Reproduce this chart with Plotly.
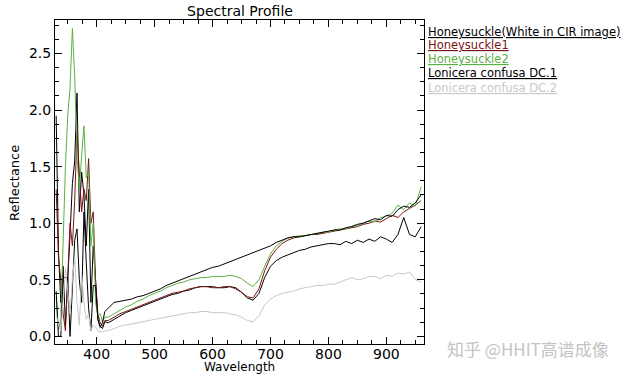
import plotly.graph_objects as go

wavelength = [330, 334, 338, 342, 346, 350, 354, 358, 362, 366, 370, 374, 378, 382, 386, 390, 394, 398, 402, 406, 410, 414,
              420, 430, 440, 450, 460, 470, 480, 490, 500, 510, 520, 530, 540, 550, 560, 570, 580, 590, 600,
              610, 620, 630, 640, 650, 660, 670, 680, 690, 700,
              710, 720, 730, 740, 750, 760, 770, 780, 790, 800, 810, 820, 830, 840, 850, 860, 870, 880, 890, 900,
              910, 920, 930, 940, 950, 960]

honeysuckle_white = [1.95, 0.75, 0.30, 0.62, 0.10, 0.45, 0.90, 1.35, 1.55, 2.15, 1.10, 1.45, 1.25, 0.80, 1.30, 0.30, 0.80, 0.50, 0.15, 0.09, 0.07, 0.13,
                     0.12, 0.15, 0.18, 0.21, 0.23, 0.25, 0.27, 0.29, 0.31, 0.33, 0.35, 0.37, 0.38, 0.40, 0.41, 0.43, 0.44, 0.44, 0.44,
                     0.43, 0.43, 0.44, 0.43, 0.39, 0.34, 0.32, 0.38, 0.52, 0.62,
                     0.67, 0.70, 0.72, 0.74, 0.76, 0.77, 0.79, 0.80, 0.81, 0.82, 0.82, 0.81, 0.84, 0.82, 0.85, 0.83, 0.86, 0.84, 0.88, 0.86,
                     0.83, 0.90, 1.05, 0.90, 0.88, 0.97]

honeysuckle1 = [1.30, 0.70, 0.50, 0.20, 0.05, 0.60, 1.00, 0.80, 1.20, 1.80, 1.40, 1.10, 1.30, 1.20, 1.57, 1.00, 1.10, 0.50, 0.20, 0.12, 0.09, 0.14,
                0.14, 0.17, 0.20, 0.22, 0.24, 0.26, 0.28, 0.30, 0.32, 0.34, 0.36, 0.38, 0.39, 0.40, 0.42, 0.43, 0.44, 0.44, 0.43,
                0.43, 0.44, 0.44, 0.42, 0.39, 0.35, 0.34, 0.42, 0.58, 0.70,
                0.77, 0.82, 0.85, 0.87, 0.88, 0.89, 0.90, 0.90, 0.91, 0.92, 0.93, 0.94, 0.95, 0.96, 0.97, 0.99, 1.00, 1.02, 1.01, 1.04,
                1.07, 1.05, 1.10, 1.13, 1.16, 1.20]

honeysuckle2 = [0.35, 0.06, 0.15, 0.90, 1.50, 1.95, 2.20, 2.72, 2.30, 1.60, 1.30, 1.60, 1.86, 1.40, 1.45, 0.80, 1.00, 0.30, 0.18, 0.20, 0.13, 0.17,
                0.17, 0.20, 0.23, 0.26, 0.28, 0.31, 0.33, 0.36, 0.38, 0.40, 0.43, 0.45, 0.47, 0.48, 0.50, 0.51, 0.52, 0.52, 0.53,
                0.53, 0.53, 0.54, 0.53, 0.51, 0.47, 0.44, 0.50, 0.62, 0.73,
                0.80, 0.84, 0.87, 0.88, 0.89, 0.89, 0.90, 0.91, 0.92, 0.92, 0.94, 0.95, 0.95, 0.97, 0.98, 1.00, 1.02, 1.01, 1.05, 1.06,
                1.09, 1.16, 1.12, 1.18, 1.15, 1.32]

lonicera_dc1 = [0.40, 0.00, 0.00, 0.52, 0.52, 0.52, 0.00, 0.45, 0.85, 0.95, 0.50, 0.30, 1.10, 0.65, 0.25, 0.05, 0.45, 0.45, 0.15, 0.08, 0.12, 0.22,
                0.25, 0.30, 0.31, 0.32, 0.33, 0.35, 0.36, 0.38, 0.40, 0.42, 0.45, 0.47, 0.49, 0.51, 0.53, 0.55, 0.57, 0.59, 0.61,
                0.62, 0.64, 0.66, 0.68, 0.70, 0.72, 0.74, 0.76, 0.78, 0.80,
                0.83, 0.85, 0.87, 0.88, 0.88, 0.89, 0.90, 0.91, 0.92, 0.93, 0.94, 0.94, 0.96, 0.97, 0.99, 1.00, 1.02, 1.04, 1.03, 1.07,
                1.06, 1.12, 1.15, 1.14, 1.18, 1.25]

lonicera_dc2 = [0.20, 0.10, 0.05, 0.30, 0.60, 0.40, 0.20, 0.50, 0.70, 0.30, 0.10, 0.55, 0.30, 0.15, 0.20, 0.05, 0.10, 0.08, 0.05, 0.04, 0.04, 0.05,
                0.05, 0.07, 0.09, 0.10, 0.11, 0.12, 0.13, 0.14, 0.15, 0.16, 0.17, 0.18, 0.19, 0.20, 0.21, 0.21, 0.22, 0.22, 0.21,
                0.21, 0.21, 0.20, 0.19, 0.17, 0.14, 0.13, 0.18, 0.28, 0.33,
                0.36, 0.38, 0.39, 0.40, 0.42, 0.43, 0.44, 0.45, 0.45, 0.46, 0.46, 0.48, 0.50, 0.52, 0.50, 0.51, 0.53, 0.53, 0.51, 0.54,
                0.53, 0.56, 0.55, 0.57, 0.50, 0.48]

series_names = ["Honeysuckle(White in CIR image)", "Honeysuckle1", "Honeysuckle2",
                "Lonicera confusa DC.1", "Lonicera confusa DC.2"]
series_values = [honeysuckle_white, honeysuckle1, honeysuckle2, lonicera_dc1, lonicera_dc2]
series_colors = ["#000000", "#7a1414", "#5cb043", "#000000", "#c8c8c8"]

W, H = 632, 374
ML, MR, MT, MB = 55, 208, 20, 30
PW, PH = W - ML - MR, H - MT - MB

fig = go.Figure()
for name, vals, col in zip(series_names, series_values, series_colors):
    fig.add_trace(go.Scatter(x=wavelength, y=vals, mode="lines", name=name,
                             line=dict(color=col, width=1), showlegend=False))

axis_common = dict(showline=True, linecolor="black", linewidth=1, mirror="ticks",
                   ticks="inside", ticklen=7, tickcolor="black", tickwidth=1,
                   showgrid=False, zeroline=False, automargin=False,
                   tickfont=dict(family="DejaVu Sans", size=14, color="black"))

fig.update_xaxes(range=[328, 965], tick0=400, dtick=100, ticklabelstandoff=-3,
                 minor=dict(dtick=25, ticks="inside", ticklen=4, tickcolor="black", showgrid=False),
                 **axis_common)
fig.update_yaxes(range=[-0.067, 2.795], tick0=0, dtick=0.5, tickformat=".1f",
                 minor=dict(dtick=0.125, ticks="inside", ticklen=4, tickcolor="black", showgrid=False),
                 **axis_common)

annotations = []
# legend as underlined coloured text
legend_y_px = [32, 45, 59, 73, 88]
for name, col, ypx in zip(series_names, series_colors, legend_y_px):
    annotations.append(dict(xref="paper", yref="paper",
                            x=(426 - ML) / PW, y=(H - MB - ypx) / PH,
                            xanchor="left", yanchor="middle", showarrow=False,
                            text="<u>" + name + "</u>",
                            font=dict(family="DejaVu Sans", size=11.5, color=col)))
# axis titles
annotations.append(dict(xref="paper", yref="paper", x=0.5, y=(H - MB - 367) / PH,
                        xanchor="center", yanchor="middle", showarrow=False,
                        text="Wavelength", font=dict(family="DejaVu Sans", size=12, color="black")))
annotations.append(dict(xref="paper", yref="paper", x=(14 - ML) / PW, y=(H - MB - 183) / PH,
                        xanchor="center", yanchor="middle", showarrow=False, textangle=-90,
                        text="Reflectance", font=dict(family="DejaVu Sans", size=13, color="black")))
# watermark
annotations.append(dict(xref="paper", yref="paper", x=(528 - ML) / PW, y=(H - MB - 348) / PH,
                        xanchor="center", yanchor="middle", showarrow=False,
                        text="知乎 @HHIT高谱成像",
                        font=dict(family="Noto Sans CJK SC", size=17, color="#c4c4c4")))

fig.update_layout(width=W, height=H, margin=dict(l=ML, r=MR, t=MT, b=MB),
                  paper_bgcolor="white", plot_bgcolor="white",
                  title=dict(text="Spectral Profile", x=240 / W, xanchor="center",
                             y=1 - 11 / H, yanchor="middle", yref="container",
                             font=dict(family="DejaVu Sans", size=14, color="black")),
                  annotations=annotations)

fig.write_html("out.html", config={"displayModeBar": False},
               post_script="document.body.style.margin='0';document.body.style.overflow='hidden';")
